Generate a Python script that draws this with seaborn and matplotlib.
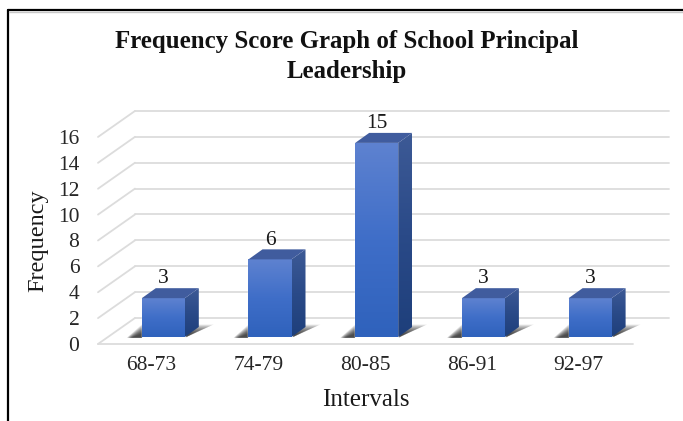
#!/usr/bin/env python
import numpy as np
import pandas as pd
import seaborn as sns
import matplotlib
matplotlib.use('Agg')
import matplotlib.pyplot as plt
from matplotlib.colors import LinearSegmentedColormap
from matplotlib.lines import Line2D
from matplotlib.patches import Polygon

intervals = ['68-73', '74-79', '80-85', '86-91', '92-97']
frequency = [3, 6, 15, 3, 3]
y_ticks = [0, 2, 4, 6, 8, 10, 12, 14, 16]

W, H = 683, 421
# pixels per data unit, used to turn the fake 3D offsets into data units
PX_X, PX_Y = 106.7, 12.94

sns.set_theme(style='white')
plt.rcParams['font.family'] = ['Liberation Serif', 'DejaVu Serif']
plt.rcParams['text.color'] = '#1a1a1a'

fig = plt.figure(figsize=(W / 100, H / 100), dpi=100)
left, right, top, bottom = 98, 669, 111, 344
ax = fig.add_axes([left / W, 1 - bottom / H, (right - left) / W, (bottom - top) / H])

df = pd.DataFrame({'Interval': intervals, 'Frequency': frequency})
sns.barplot(x='Interval', y='Frequency', data=df, ax=ax, color='#3f6cc5', width=0.403, saturation=1, zorder=5)

xlim = ((left - 163.3) / PX_X, (right - 163.3) / PX_X)
ylim = (0, (bottom - top) / PX_Y)
depth_x, depth_y = 14 / PX_X, 10 / PX_Y
base = 7 / PX_Y

front_cmap = LinearSegmentedColormap.from_list('front', ['#5e82d0', '#3f6ec8', '#2f62bc'])
side_cmap = LinearSegmentedColormap.from_list('side', ['#3d5a96', '#2a4a88', '#1e3f7b'])


def gradient(verts, cmap, zorder):
    verts = np.array(verts)
    grad = np.linspace(0, 1, 128).reshape(-1, 1)
    extent = [verts[:, 0].min(), verts[:, 0].max(), verts[:, 1].min(), verts[:, 1].max()]
    im = ax.imshow(grad, cmap=cmap, aspect='auto', extent=extent, origin='upper', zorder=zorder)
    im.set_clip_path(Polygon(verts, closed=True, transform=ax.transData))


for bar in ax.patches:
    bar.set_y(base)
    x0 = bar.get_x()
    x1 = x0 + bar.get_width()
    y1 = base + bar.get_height()

    # soft shadow on the floor, stacked polygons to get the blur
    for i in range(14):
        k = i / 14
        sh_top = base + (12.5 - 10 * k) / PX_Y
        sh = [(x0 - (15 - 5 * k) / PX_X, base - 0.06), (x1, base - 0.06),
              (x1 + (29 - 24 * k) / PX_X, sh_top), (x0, sh_top)]
        ax.add_patch(Polygon(sh, closed=True, fc='black', ec='none', alpha=0.08, zorder=3))

    gradient([(x0, base), (x1, base), (x1, y1), (x0, y1)], front_cmap, 6)
    gradient([(x1, base), (x1 + depth_x, base + depth_y), (x1 + depth_x, y1 + depth_y), (x1, y1)], side_cmap, 6)
    ax.add_patch(Polygon([(x0, y1), (x1, y1), (x1 + depth_x, y1 + depth_y), (x0 + depth_x, y1 + depth_y)],
                         closed=True, fc='#405c9e', ec='none', zorder=6))

# value labels sit above the top face
ax.bar_label(ax.containers[0], labels=[str(v) for v in frequency], padding=7, fontsize=15.5, zorder=8)

# floor and back wall gridlines
grid_c = '#dcdcdc'
wall_x = xlim[0] + 37 / PX_X
wall_dy = 26 / PX_Y
for t in y_ticks:
    ax.plot([xlim[0], wall_x], [t, t + wall_dy], color=grid_c, lw=1.3, zorder=1, clip_on=False)
    ax.plot([wall_x, xlim[1]], [t + wall_dy, t + wall_dy], color=grid_c, lw=1.3, zorder=1, clip_on=False)
ax.plot([xlim[0], xlim[1] - 36 / PX_X], [0, 0], color=grid_c, lw=1.3, zorder=1, clip_on=False)

ax.set_xlim(xlim)
ax.set_ylim(ylim)
sns.despine(ax=ax, left=True, bottom=True)
ax.set_yticks(y_ticks, [str(t) for t in y_ticks], fontsize=15.5)
ax.set_xticks(np.arange(len(intervals)) - 0.11, intervals, fontsize=15.5)
ax.tick_params(axis='y', length=0, pad=13.5)
ax.tick_params(axis='x', length=0, pad=9)
ax.set_xlabel('')
ax.set_ylabel('')

fig.text(366 / W, 1 - 400 / H, 'Intervals', fontsize=18, ha='center', va='center')
fig.text(38 / W, 1 - 241 / H, 'Frequency', fontsize=17.5, rotation=90, ha='center', va='center')
fig.text(347 / W, 1 - 56.5 / H, 'Frequency Score Graph of School Principal\nLeadership',
         fontsize=17.9, fontweight='bold', ha='center', va='center', linespacing=1.38, color='#111111')

# box round the chart, open at the right and bottom where the picture is cut
fig.add_artist(Line2D([8 / W, 8 / W], [0, 1 - 9.5 / H], color='black', lw=1.6))
fig.add_artist(Line2D([7.5 / W, 1], [1 - 9.5 / H, 1 - 9.5 / H], color='black', lw=1.6))
fig.add_artist(Line2D([9 / W, 1], [1 - 11.5 / H, 1 - 11.5 / H], color='#c8c8c8', lw=1))

fig.savefig('out.png', dpi=100)
